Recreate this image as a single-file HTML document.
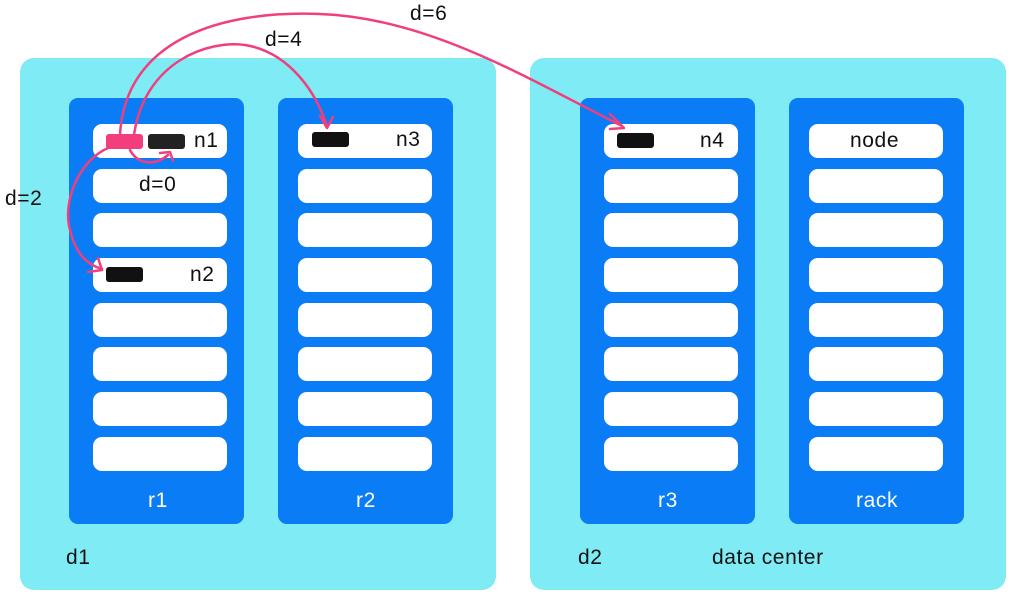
<!DOCTYPE html>
<html><head><meta charset="utf-8"><style>
body{margin:0;width:1022px;height:607px;background:#fff;position:relative;overflow:hidden;font-family:"Liberation Sans",sans-serif;}
.dc{position:absolute;background:#7EEBF5;border-radius:14px;top:58px;width:476px;height:532px;}
.rk{position:absolute;background:#0A7CF5;border-radius:9px;top:98px;width:175px;height:426px;}
.sl{position:absolute;background:#fff;border-radius:9px;width:134px;height:34px;}
.t{position:absolute;font-size:21px;letter-spacing:0.6px;color:#111;line-height:22px;}
.w{color:#fff;}
.bk{position:absolute;background:#111;border-radius:3px;width:37px;height:15px;}
</style></head><body>
<div class="dc" style="left:20px"></div>
<div class="dc" style="left:530px"></div>
<div class="rk" style="left:69px"></div>
<div class="rk" style="left:278px"></div>
<div class="rk" style="left:580px"></div>
<div class="rk" style="left:789px"></div>
<div id="slots"></div>
<script>
var xs=[93,298,604,809],ys=[124,169,213,258,303,347,392,437],h='';
xs.forEach(function(x){ys.forEach(function(y){h+='<div class="sl" style="left:'+x+'px;top:'+y+'px"></div>';});});
document.getElementById('slots').innerHTML=h;
</script>
<div class="bk" style="left:148px;top:134px;background:#222"></div>
<div class="bk" style="left:106px;top:134px;background:#F23E7D"></div>
<div class="bk" style="left:106px;top:267px"></div>
<div class="bk" style="left:312px;top:132px"></div>
<div class="bk" style="left:617px;top:133px"></div>
<div class="t" style="left:194px;top:130px">n1</div>
<div class="t" style="left:139px;top:174px">d=0</div>
<div class="t" style="left:190px;top:264px">n2</div>
<div class="t" style="left:396px;top:129px">n3</div>
<div class="t" style="left:700px;top:130px">n4</div>
<div class="t" style="left:850px;top:130px">node</div>
<div class="t w" style="left:148px;top:490px">r1</div>
<div class="t w" style="left:356px;top:490px">r2</div>
<div class="t w" style="left:658px;top:490px">r3</div>
<div class="t w" style="left:856px;top:490px">rack</div>
<div class="t" style="left:66px;top:547px">d1</div>
<div class="t" style="left:578px;top:547px">d2</div>
<div class="t" style="left:712px;top:547px">data center</div>
<div class="t" style="left:5px;top:188px">d=2</div>
<div class="t" style="left:265px;top:29px">d=4</div>
<div class="t" style="left:410px;top:3px">d=6</div>
<svg width="1022" height="607" style="position:absolute;left:0;top:0" fill="none" stroke="#F23E7D" stroke-width="2.5" stroke-linecap="round" stroke-linejoin="round">
<path d="M120 135 C125 40 220 10 320 14 C430 18 530 80 622 126"/>
<path d="M610 114 L624 128 L610 129"/>
<path d="M134 135 C145 60 210 40 245 45 C290 52 318 95 327 127"/>
<path d="M320 116 L327 128 L333 117"/>
<path d="M108 148 C80 160 62 200 70 230 C76 255 88 265 102 269"/>
<path d="M88 272 L102 270 L98 258"/>
<path d="M130 150 C138 165 155 166 168 155"/>
<path d="M160 153 L170 152 L173 161"/>
</svg>
</body></html>
